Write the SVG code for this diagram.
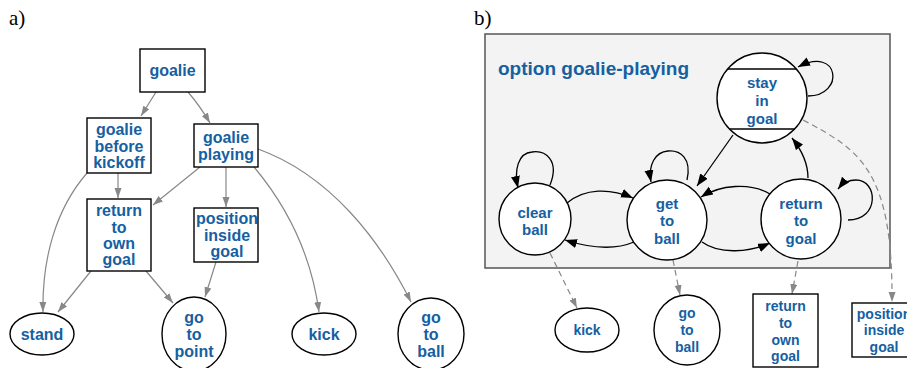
<svg xmlns="http://www.w3.org/2000/svg" width="907" height="368" viewBox="0 0 907 368">
  <style>
    .lbl { font-family: "Liberation Serif", "DejaVu Serif", serif; font-size: 21px; fill: #000; }
    .t { font-family: "Liberation Sans", Arial, sans-serif; font-weight: bold; fill: #1560a2; text-anchor: middle; dominant-baseline: central; }
    .ta { font-size: 16px; }
    .tb { font-size: 15px; }
    .tc { font-size: 14px; }
    .box { fill: #fff; stroke: #000; stroke-width: 1.4; }
    .ga { fill: none; stroke: #888; stroke-width: 1.2; }
    .gb { fill: none; stroke: #000; stroke-width: 1.3; }
    .gd { fill: none; stroke: #888; stroke-width: 1.2; stroke-dasharray: 6 4; }
  </style>
  <defs>
    <marker id="ag" markerUnits="userSpaceOnUse" markerWidth="11" markerHeight="8" refX="10" refY="3.5" orient="auto">
      <path d="M0,0 L10,3.5 L0,7 z" fill="#888"/>
    </marker>
    <marker id="ab" markerUnits="userSpaceOnUse" markerWidth="13" markerHeight="10" refX="12" refY="4.5" orient="auto">
      <path d="M0,0 L12,4.5 L0,9 z" fill="#000"/>
    </marker>
  </defs>

  <rect width="907" height="368" fill="#fff"/>

  <text class="lbl" x="9" y="25">a)</text>
  <text class="lbl" x="474" y="25">b)</text>

  <!-- option frame -->
  <g id="option-goalie-playing">
    <rect x="485" y="34" width="405" height="234" fill="#f3f3f3" stroke="#555" stroke-width="1.5"/>
    <text class="t" x="498" y="68" style="font-size:19px;text-anchor:start">option goalie-playing</text>
  </g>

  <!-- connectors -->
  <g id="connectors">
    <!-- hierarchy (a) -->
    <path class="ga" marker-end="url(#ag)" d="M156,92 L141,116"/>
    <path class="ga" marker-end="url(#ag)" d="M188,92 Q200,106 210,123"/>
    <path class="ga" marker-end="url(#ag)" d="M87,173 C55,210 42,260 43,312"/>
    <path class="ga" marker-end="url(#ag)" d="M118,173 L118,198"/>
    <path class="ga" marker-end="url(#ag)" d="M200,167 L153,205"/>
    <path class="ga" marker-end="url(#ag)" d="M226,167 L226,207"/>
    <path class="ga" marker-end="url(#ag)" d="M254,167 C290,210 312,260 319,312"/>
    <path class="ga" marker-end="url(#ag)" d="M258,149 C330,175 380,240 411,302"/>
    <path class="ga" marker-end="url(#ag)" d="M91,271 L58,312"/>
    <path class="ga" marker-end="url(#ag)" d="M146,271 L173,303"/>
    <path class="ga" marker-end="url(#ag)" d="M216,262 L205,297"/>

    <!-- state transitions (b) -->
    <path class="gb" marker-end="url(#ab)" d="M808,96 C845,96 840,45 798,67"/>
    <path class="gb" marker-end="url(#ab)" d="M733,135 L697,186"/>
    <path class="gb" marker-end="url(#ab)" d="M808,178 C808,162 800,148 792,138"/>
    <path class="gb" marker-end="url(#ab)" d="M702,242 C720,255 750,252 770,243"/>
    <path class="gb" marker-end="url(#ab)" d="M770,194 C750,182 720,185 701,197"/>
    <path class="gb" marker-end="url(#ab)" d="M567,203 C585,188 610,188 633,198"/>
    <path class="gb" marker-end="url(#ab)" d="M634,242 C615,250 590,248 565,240"/>
    <path class="gb" marker-end="url(#ab)" d="M550,185 C560,160 545,150 532,152 C518,153 514,170 518,188"/>
    <path class="gb" marker-end="url(#ab)" d="M687,180 C692,158 680,150 668,151 C655,152 648,165 651,182"/>
    <path class="gb" marker-end="url(#ab)" d="M848,220 C880,220 878,180 856,180 C848,180 842,184 838,189"/>

    <!-- subordinate calls (b) -->
    <path class="gd" marker-end="url(#ag)" d="M550,253 L577,308"/>
    <path class="gd" marker-end="url(#ag)" d="M673,260 L680,295"/>
    <path class="gd" marker-end="url(#ag)" d="M798,261 L792,294"/>
    <path class="gd" marker-end="url(#ag)" d="M803,120 C860,150 893,170 892,302"/>
  </g>

  <!-- nodes (a) -->
  <g id="a-goalie">
    <rect class="box" x="140" y="49" width="65" height="43"/>
    <text class="t ta" x="172.5" y="70">goalie</text>
  </g>
  <g id="a-goalie-before-kickoff">
    <rect class="box" x="87" y="118" width="64" height="55"/>
    <text class="t ta" x="119" y="129">goalie</text>
    <text class="t ta" x="119" y="146">before</text>
    <text class="t ta" x="119" y="162">kickoff</text>
  </g>
  <g id="a-goalie-playing">
    <rect class="box" x="194" y="124" width="64" height="43"/>
    <text class="t ta" x="226" y="137">goalie</text>
    <text class="t ta" x="226" y="154">playing</text>
  </g>
  <g id="a-return-to-own-goal">
    <rect class="box" x="87" y="199" width="64" height="72"/>
    <text class="t ta" x="119" y="210">return</text>
    <text class="t ta" x="119" y="227">to</text>
    <text class="t ta" x="119" y="243">own</text>
    <text class="t ta" x="119" y="259">goal</text>
  </g>
  <g id="a-position-inside-goal">
    <rect class="box" x="194" y="208" width="64" height="54"/>
    <text class="t ta" x="227" y="218">position</text>
    <text class="t ta" x="227" y="235">inside</text>
    <text class="t ta" x="227" y="251">goal</text>
  </g>
  <g id="a-stand">
    <ellipse class="box" cx="42" cy="334" rx="32" ry="21"/>
    <text class="t ta" x="42" y="334">stand</text>
  </g>
  <g id="a-go-to-point">
    <ellipse class="box" cx="194" cy="334" rx="32" ry="37"/>
    <text class="t ta" x="194" y="317">go</text>
    <text class="t ta" x="194" y="334">to</text>
    <text class="t ta" x="194" y="351">point</text>
  </g>
  <g id="a-kick">
    <ellipse class="box" cx="324" cy="334" rx="32" ry="21"/>
    <text class="t ta" x="324" y="334">kick</text>
  </g>
  <g id="a-go-to-ball">
    <ellipse class="box" cx="431" cy="334" rx="33" ry="36"/>
    <text class="t ta" x="431" y="317">go</text>
    <text class="t ta" x="431" y="334">to</text>
    <text class="t ta" x="431" y="351">ball</text>
  </g>

  <!-- states (b) -->
  <g id="b-stay-in-goal">
    <circle class="box" cx="762" cy="98" r="45"/>
    <line x1="727.6" y1="69" x2="796.4" y2="69" stroke="#000" stroke-width="1.4"/>
    <line x1="729.4" y1="129" x2="794.6" y2="129" stroke="#000" stroke-width="1.4"/>
    <text class="t tb" x="762" y="82">stay</text>
    <text class="t tb" x="762" y="100">in</text>
    <text class="t tb" x="762" y="118">goal</text>
  </g>
  <g id="b-clear-ball">
    <circle class="box" cx="535" cy="219" r="36"/>
    <text class="t tb" x="535" y="212">clear</text>
    <text class="t tb" x="535" y="229">ball</text>
  </g>
  <g id="b-get-to-ball">
    <circle class="box" cx="667" cy="220" r="40"/>
    <text class="t tb" x="667" y="203">get</text>
    <text class="t tb" x="667" y="220">to</text>
    <text class="t tb" x="667" y="238">ball</text>
  </g>
  <g id="b-return-to-goal">
    <circle class="box" cx="801" cy="219" r="40"/>
    <text class="t tb" x="801" y="203">return</text>
    <text class="t tb" x="801" y="220">to</text>
    <text class="t tb" x="801" y="238">goal</text>
  </g>

  <!-- called options (b) -->
  <g id="b-kick">
    <ellipse class="box" cx="587" cy="330" rx="32" ry="22"/>
    <text class="t tc" x="587" y="330">kick</text>
  </g>
  <g id="b-go-to-ball">
    <ellipse class="box" cx="687" cy="330" rx="33" ry="35"/>
    <text class="t tc" x="687" y="313">go</text>
    <text class="t tc" x="687" y="330">to</text>
    <text class="t tc" x="687" y="347">ball</text>
  </g>
  <g id="b-return-to-own-goal">
    <rect class="box" x="753" y="294" width="65" height="73"/>
    <text class="t tc" x="785.5" y="306">return</text>
    <text class="t tc" x="785.5" y="323">to</text>
    <text class="t tc" x="785.5" y="340">own</text>
    <text class="t tc" x="785.5" y="356">goal</text>
  </g>
  <g id="b-position-inside-goal">
    <rect class="box" x="852" y="303" width="66" height="54"/>
    <text class="t tc" x="884" y="314">position</text>
    <text class="t tc" x="884" y="330">inside</text>
    <text class="t tc" x="884" y="347">goal</text>
  </g>
</svg>
